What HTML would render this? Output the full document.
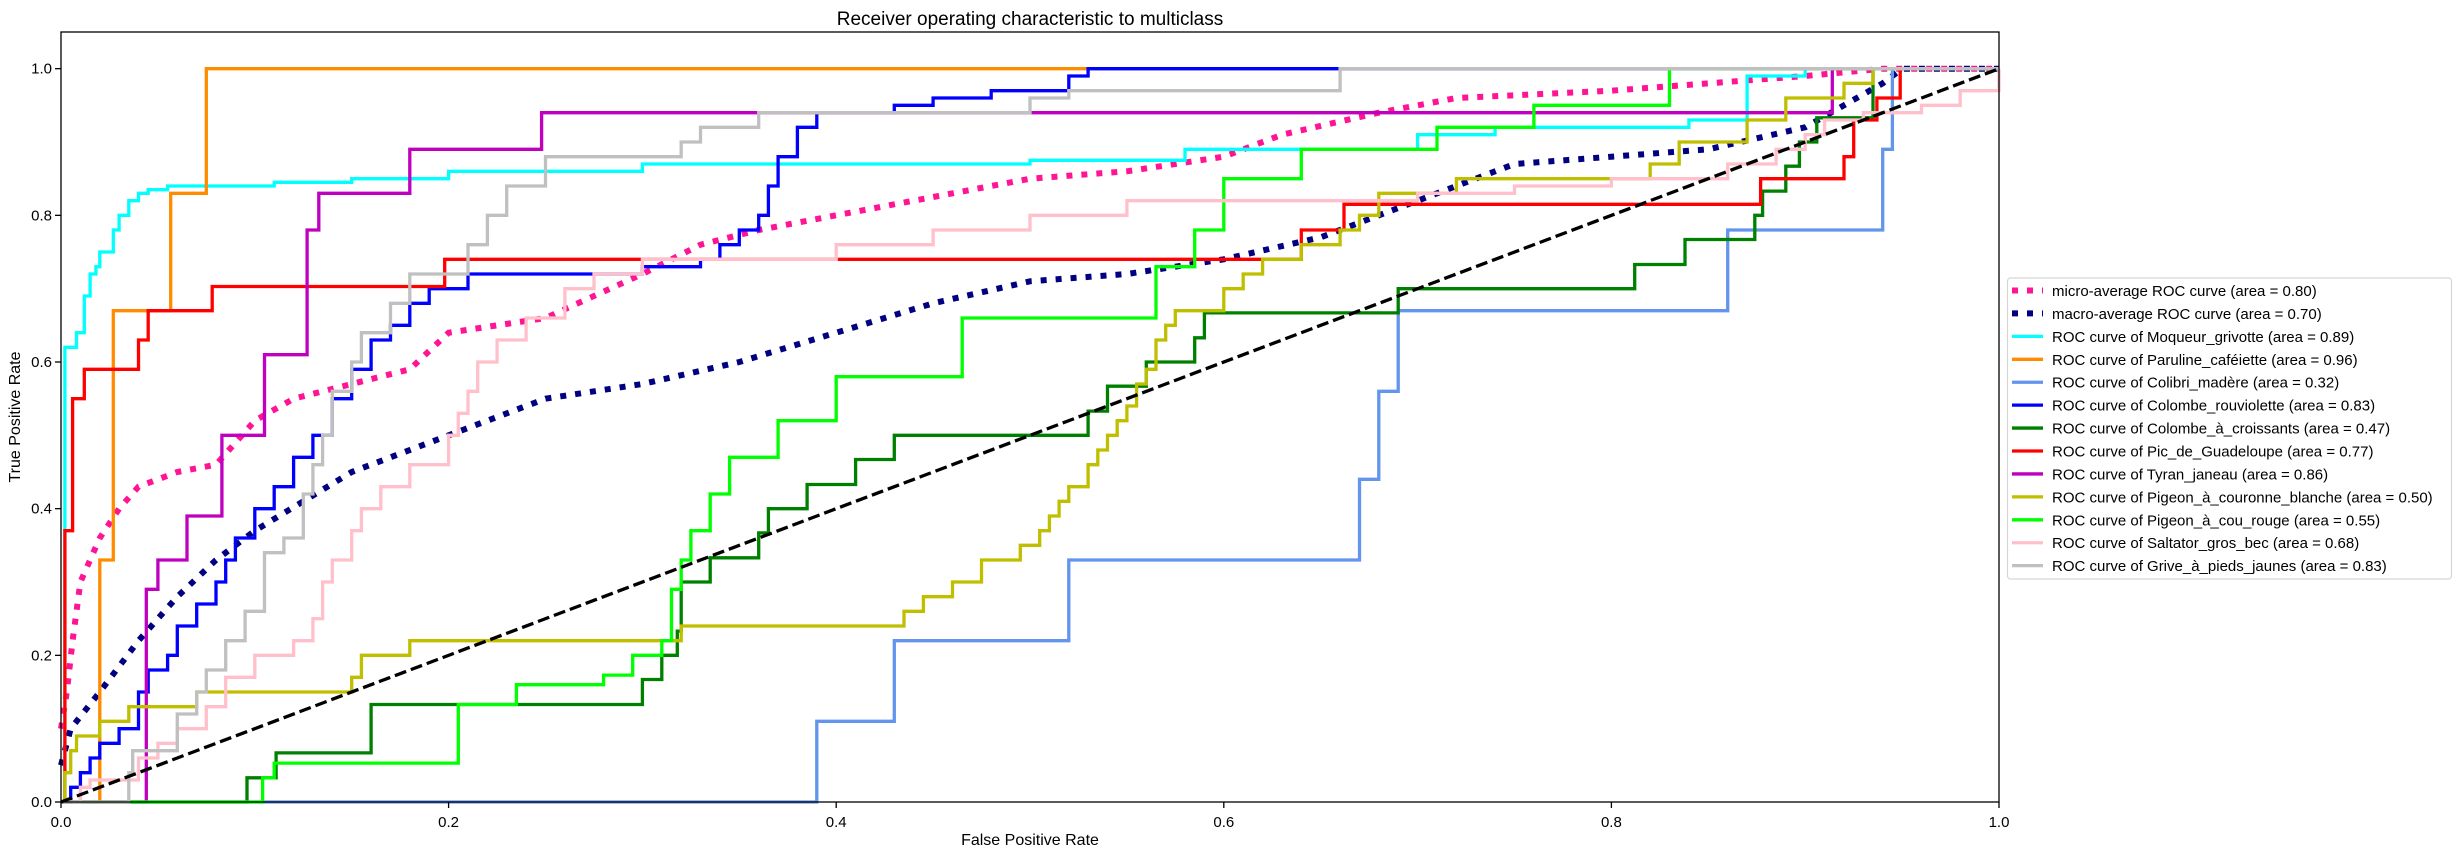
<!DOCTYPE html>
<html><head><meta charset="utf-8"><style>
html,body{margin:0;padding:0;background:#fff;}
svg{display:block;font-family:"Liberation Sans","DejaVu Sans",sans-serif;}
</style></head><body>
<svg id="chart" width="2455" height="855" viewBox="0 0 2455 855" xmlns="http://www.w3.org/2000/svg">
<rect width="2455" height="855" fill="#fff"/>
<text x="1030" y="25" text-anchor="middle" font-size="19" fill="#000">Receiver operating characteristic to multiclass</text>
<g id="plot"></g>
<g id="axes"></g>
<text x="1030" y="845" text-anchor="middle" font-size="16">False Positive Rate</text>
<text x="20" y="417" text-anchor="middle" font-size="16" transform="rotate(-90 20 417)">True Positive Rate</text>
<g id="legend"></g>
</svg>
<script>
const xTicks=[0,0.2,0.4,0.6,0.8,1.0];
const yTicks=[0,0.2,0.4,0.6,0.8,1.0];
const xTickLabels=["0.0","0.2","0.4","0.6","0.8","1.0"];
const yTickLabels=["0.0","0.2","0.4","0.6","0.8","1.0"];
const seriesNames=["micro-average ROC curve (area = 0.80)","macro-average ROC curve (area = 0.70)","ROC curve of Moqueur_grivotte (area = 0.89)","ROC curve of Paruline_caféiette (area = 0.96)","ROC curve of Colibri_madère (area = 0.32)","ROC curve of Colombe_rouviolette (area = 0.83)","ROC curve of Colombe_à_croissants (area = 0.47)","ROC curve of Pic_de_Guadeloupe (area = 0.77)","ROC curve of Tyran_janeau (area = 0.86)","ROC curve of Pigeon_à_couronne_blanche (area = 0.50)","ROC curve of Pigeon_à_cou_rouge (area = 0.55)","ROC curve of Saltator_gros_bec (area = 0.68)","ROC curve of Grive_à_pieds_jaunes (area = 0.83)"];
const seriesColors=["deeppink","navy","aqua","darkorange","cornflowerblue","blue","green","red","m","y","lime","pink","silver"];
const microFpr=[0,0.003,0.006,0.01,0.02,0.03,0.04,0.06,0.08,0.1,0.12,0.15,0.18,0.2,0.25,0.3,0.33,0.36,0.4,0.44,0.48,0.5,0.55,0.6,0.63,0.68,0.72,0.8,0.9,0.94,1];
const microTpr=[0.1,0.15,0.22,0.3,0.36,0.4,0.43,0.45,0.46,0.52,0.55,0.57,0.59,0.64,0.66,0.72,0.76,0.78,0.8,0.82,0.84,0.85,0.86,0.88,0.91,0.94,0.96,0.97,0.99,1,1];
const macroFpr=[0,0.005,0.02,0.04,0.06,0.08,0.1,0.15,0.2,0.25,0.3,0.35,0.4,0.45,0.5,0.55,0.6,0.65,0.7,0.75,0.8,0.85,0.9,0.94,0.95,1];
const macroTpr=[0.05,0.1,0.15,0.22,0.28,0.33,0.37,0.45,0.5,0.55,0.57,0.6,0.64,0.68,0.71,0.72,0.74,0.77,0.82,0.87,0.88,0.89,0.92,0.98,1,1];
const moqFpr=[0,0.002,0.008,0.012,0.015,0.018,0.02,0.027,0.03,0.035,0.04,0.045,0.055,0.11,0.15,0.2,0.3,0.5,0.58,0.7,0.74,0.84,0.87,0.9,1];
const moqTpr=[0,0.62,0.64,0.69,0.72,0.73,0.75,0.78,0.8,0.82,0.83,0.835,0.84,0.845,0.85,0.86,0.87,0.875,0.89,0.91,0.92,0.93,0.99,1,1];
const parFpr=[0,0.02,0.027,0.0566,0.075,1];
const parTpr=[0,0.33,0.67,0.83,1,1];
const colFpr=[0,0.39,0.43,0.52,0.67,0.68,0.69,0.86,0.94,0.945,1];
const colTpr=[0,0.11,0.22,0.33,0.44,0.56,0.67,0.78,0.89,1,1];
const rouFpr=[0,0.005,0.01,0.015,0.02,0.03,0.04,0.045,0.055,0.06,0.07,0.08,0.085,0.09,0.1,0.11,0.12,0.13,0.14,0.15,0.16,0.17,0.18,0.19,0.21,0.3,0.33,0.34,0.35,0.36,0.365,0.37,0.38,0.39,0.43,0.45,0.48,0.52,0.53,1];
const rouTpr=[0,0.02,0.04,0.06,0.08,0.1,0.15,0.18,0.2,0.24,0.27,0.3,0.33,0.36,0.4,0.43,0.47,0.5,0.55,0.59,0.63,0.65,0.68,0.7,0.72,0.73,0.74,0.76,0.78,0.8,0.84,0.88,0.92,0.94,0.95,0.96,0.97,0.99,1,1];
const croFpr=[0,0.096,0.111,0.16,0.3,0.31,0.318,0.32,0.335,0.36,0.365,0.385,0.41,0.43,0.53,0.54,0.56,0.585,0.59,0.69,0.8,0.812,0.838,0.874,0.878,0.89,0.897,0.906,0.935,1];
const croTpr=[0,0.033,0.067,0.133,0.167,0.2,0.233,0.3,0.333,0.367,0.4,0.433,0.467,0.5,0.533,0.567,0.6,0.633,0.667,0.7,0.7,0.733,0.767,0.8,0.833,0.867,0.9,0.933,1,1];
const picFpr=[0,0.002,0.006,0.012,0.04,0.045,0.078,0.198,0.64,0.662,0.877,0.92,0.925,0.937,0.949,1];
const picTpr=[0,0.37,0.55,0.59,0.63,0.67,0.703,0.74,0.78,0.815,0.85,0.88,0.93,0.96,1,1];
const tyrFpr=[0,0.044,0.05,0.065,0.083,0.105,0.127,0.133,0.18,0.248,0.914,1];
const tyrTpr=[0,0.29,0.33,0.39,0.5,0.61,0.78,0.83,0.89,0.94,1,1];
const couFpr=[0,0.002,0.005,0.008,0.02,0.035,0.07,0.15,0.155,0.18,0.32,0.435,0.445,0.46,0.475,0.495,0.505,0.51,0.515,0.52,0.53,0.535,0.54,0.545,0.55,0.555,0.56,0.565,0.57,0.575,0.6,0.61,0.62,0.64,0.66,0.67,0.68,0.72,0.82,0.835,0.87,0.89,0.92,0.935,1];
const couTpr=[0,0.04,0.07,0.09,0.11,0.13,0.15,0.17,0.2,0.22,0.24,0.26,0.28,0.3,0.33,0.35,0.37,0.39,0.41,0.43,0.46,0.48,0.5,0.52,0.54,0.57,0.59,0.63,0.65,0.67,0.7,0.72,0.74,0.76,0.78,0.8,0.83,0.85,0.87,0.9,0.93,0.96,0.98,1,1];
const rouFpr2=[0,0.104,0.11,0.205,0.235,0.28,0.295,0.31,0.315,0.32,0.325,0.335,0.345,0.37,0.4,0.465,0.565,0.585,0.6,0.64,0.71,0.76,0.83,1];
const rouTpr2=[0,0.033,0.053,0.133,0.16,0.173,0.2,0.22,0.29,0.33,0.37,0.42,0.47,0.52,0.58,0.66,0.73,0.78,0.85,0.89,0.92,0.95,1,1];
const salFpr=[0,0.01,0.015,0.04,0.05,0.06,0.075,0.085,0.1,0.12,0.13,0.135,0.14,0.15,0.155,0.165,0.18,0.2,0.205,0.21,0.215,0.225,0.24,0.26,0.275,0.3,0.4,0.45,0.5,0.55,0.7,0.75,0.8,0.86,0.885,0.9,0.91,0.93,0.96,0.98,1];
const salTpr=[0,0.02,0.03,0.06,0.08,0.1,0.13,0.17,0.2,0.22,0.25,0.3,0.33,0.37,0.4,0.43,0.46,0.5,0.53,0.56,0.6,0.63,0.66,0.7,0.72,0.74,0.76,0.78,0.8,0.82,0.83,0.84,0.85,0.87,0.89,0.91,0.93,0.94,0.95,0.97,1];
const griFpr=[0,0.035,0.037,0.06,0.07,0.075,0.085,0.095,0.105,0.115,0.125,0.13,0.135,0.14,0.15,0.155,0.17,0.18,0.21,0.22,0.23,0.25,0.32,0.33,0.36,0.5,0.52,0.66,1];
const griTpr=[0,0.04,0.07,0.12,0.15,0.18,0.22,0.26,0.34,0.36,0.42,0.46,0.5,0.56,0.6,0.64,0.68,0.72,0.76,0.8,0.84,0.88,0.9,0.92,0.94,0.96,0.97,1,1];
const diagX=[0,1];
const diagY=[0,1];

const NS="http://www.w3.org/2000/svg";
const X0=61,X1=1999,YT=32,YB=802,YMAX=1.05;
function sx(v){return X0+v*(X1-X0);}
function sy(v){return YB-v/YMAX*(YB-YT);}
const colorMap={m:"#bf00bf",y:"#bfbf00",green:"#008000",silver:"#c0c0c0",pink:"#ffc0cb",lime:"#00ff00",blue:"#0000ff",red:"#ff0000",aqua:"#00ffff",darkorange:"#ff8c00",cornflowerblue:"#6495ed",navy:"#000080",deeppink:"#ff1493"};
const plot=document.getElementById('plot');
function linePath(xs,ys){return xs.map((x,i)=>(i?'L':'M')+sx(x).toFixed(1)+' '+sy(ys[i]).toFixed(1)).join(' ');}
function stepPath(xs,ys){let d='M'+sx(xs[0]).toFixed(1)+' '+sy(ys[0]).toFixed(1);for(let i=1;i<xs.length;i++){d+=' L'+sx(xs[i]).toFixed(1)+' '+sy(ys[i-1]).toFixed(1)+' L'+sx(xs[i]).toFixed(1)+' '+sy(ys[i]).toFixed(1);}return d;}
const curves=[
 {name:'micro-average-curve',x:microFpr,y:microTpr,c:0,dot:true},
 {name:'macro-average-curve',x:macroFpr,y:macroTpr,c:1,dot:true},
 {name:'moqueur-grivotte-curve',x:moqFpr,y:moqTpr,c:2},
 {name:'paruline-cafeiette-curve',x:parFpr,y:parTpr,c:3},
 {name:'colibri-madere-curve',x:colFpr,y:colTpr,c:4},
 {name:'colombe-rouviolette-curve',x:rouFpr,y:rouTpr,c:5},
 {name:'colombe-croissants-curve',x:croFpr,y:croTpr,c:6},
 {name:'pic-guadeloupe-curve',x:picFpr,y:picTpr,c:7},
 {name:'tyran-janeau-curve',x:tyrFpr,y:tyrTpr,c:8},
 {name:'pigeon-couronne-curve',x:couFpr,y:couTpr,c:9},
 {name:'pigeon-cou-rouge-curve',x:rouFpr2,y:rouTpr2,c:10},
 {name:'saltator-curve',x:salFpr,y:salTpr,c:11},
 {name:'grive-curve',x:griFpr,y:griTpr,c:12}
];
const cp=document.createElementNS(NS,'clipPath');cp.setAttribute('id','clip');
const cr=document.createElementNS(NS,'rect');cr.setAttribute('x',X0-3);cr.setAttribute('y',YT);cr.setAttribute('width',X1-X0+6);cr.setAttribute('height',YB-YT+3);cp.appendChild(cr);plot.appendChild(cp);
curves.forEach(cv=>{
 const p=document.createElementNS(NS,'path');
 p.setAttribute('d',cv.dot?linePath(cv.x,cv.y):stepPath(cv.x,cv.y));
 p.setAttribute('fill','none');
 p.setAttribute('stroke',colorMap[seriesColors[cv.c]]);
 p.setAttribute('clip-path','url(#clip)');
 if(cv.dot){p.setAttribute('stroke-width','6');p.setAttribute('stroke-dasharray','6 9');}
 else{p.setAttribute('stroke-width','3.3');p.setAttribute('stroke-linejoin','miter');}
 
 
 plot.appendChild(p);
});
const dg=document.createElementNS(NS,'path');
dg.setAttribute('d',linePath(diagX,diagY));
dg.setAttribute('stroke','#000');dg.setAttribute('stroke-width','3.3');dg.setAttribute('stroke-dasharray','12 5');dg.setAttribute('fill','none');


plot.appendChild(dg);
const axes=document.getElementById('axes');
const fr=document.createElementNS(NS,'rect');
fr.setAttribute('x',X0);fr.setAttribute('y',YT);fr.setAttribute('width',X1-X0);fr.setAttribute('height',YB-YT);
fr.setAttribute('fill','none');fr.setAttribute('stroke','#000');fr.setAttribute('stroke-width','1.3');


axes.appendChild(fr);
xTicks.forEach((t,i)=>{
 const l=document.createElementNS(NS,'line');
 l.setAttribute('x1',sx(t));l.setAttribute('x2',sx(t));l.setAttribute('y1',YB);l.setAttribute('y2',YB+6);l.setAttribute('stroke','#000');l.setAttribute('stroke-width','1.3');
 
 
 axes.appendChild(l);
 const tx=document.createElementNS(NS,'text');
 tx.setAttribute('x',sx(t));tx.setAttribute('y',YB+25);tx.setAttribute('text-anchor','middle');tx.setAttribute('font-size','15');
 tx.textContent=xTickLabels[i];
 
 
 axes.appendChild(tx);
});
yTicks.forEach((t,i)=>{
 const l=document.createElementNS(NS,'line');
 l.setAttribute('x1',X0-6);l.setAttribute('x2',X0);l.setAttribute('y1',sy(t));l.setAttribute('y2',sy(t));l.setAttribute('stroke','#000');l.setAttribute('stroke-width','1.3');
 
 
 axes.appendChild(l);
 const tx=document.createElementNS(NS,'text');
 tx.setAttribute('x',X0-9);tx.setAttribute('y',sy(t)+5);tx.setAttribute('text-anchor','end');tx.setAttribute('font-size','15');
 tx.textContent=yTickLabels[i];
 
 
 axes.appendChild(tx);
});
const lg=document.getElementById('legend');
const lb=document.createElementNS(NS,'rect');
lb.setAttribute('x',2007.5);lb.setAttribute('y',278);lb.setAttribute('width',444);lb.setAttribute('height',301);lb.setAttribute('rx',3);
lb.setAttribute('fill','#fff');lb.setAttribute('stroke','#d6d6d6');lb.setAttribute('stroke-width','1.2');


lg.appendChild(lb);
seriesNames.forEach((n,i)=>{
 const y=290.5+i*22.93;
 const h=document.createElementNS(NS,'line');
 h.setAttribute('x1',2012);h.setAttribute('x2',2043);h.setAttribute('y1',y);h.setAttribute('y2',y);
 h.setAttribute('stroke',colorMap[seriesColors[i]]);
 if(i<2){h.setAttribute('stroke-width','6');h.setAttribute('stroke-dasharray','6 9');}else{h.setAttribute('stroke-width','3.3');}
 
 
 lg.appendChild(h);
 const t=document.createElementNS(NS,'text');
 t.setAttribute('x',2052);t.setAttribute('y',y+5.5);t.setAttribute('font-size','15');
 t.textContent=n;
 
 
 lg.appendChild(t);
});
</script>
</body></html>
